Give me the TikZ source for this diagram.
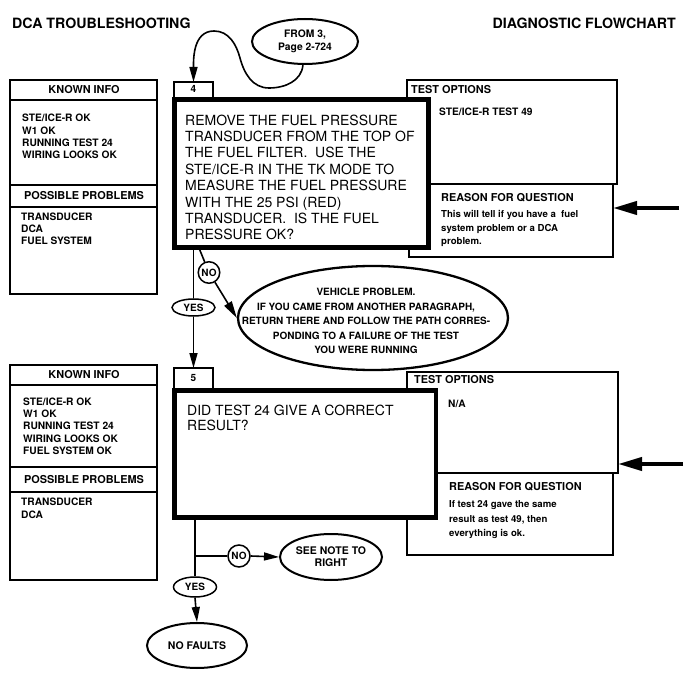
\documentclass[tikz,border=0pt]{standalone}
\usepackage{fontspec}
\setmainfont{TeX Gyre Heros}
\usetikzlibrary{arrows.meta,shapes.geometric}
\begin{document}
\begin{tikzpicture}[x=1pt,y=-1pt,
  thinbox/.style={draw, line width=1.3pt, inner sep=0pt, outer sep=0pt, anchor=north west, fill=white},
  qbox/.style={draw, line width=4.5pt, inner sep=0pt, outer sep=0pt, anchor=north west, fill=white},
  headtxt/.style={inner sep=0pt, font=\fontsize{10.9}{12}\selectfont\bfseries},
  smalltxt/.style={inner sep=0pt, anchor=north west, align=left, font=\fontsize{10.2}{12.3}\selectfont\bfseries},
  qtxt/.style={inner sep=0pt, anchor=north west, align=left, font=\fontsize{14}{16.4}\selectfont},
  titletxt/.style={inner sep=0pt, font=\fontsize{14.2}{16}\selectfont\bfseries},
  oval/.style={draw, ellipse, line width=2pt, inner sep=0pt, align=center, font=\fontsize{9.5}{14.5}\selectfont\bfseries},
  ovaltxt/.style={inner sep=0pt, align=center, font=\fontsize{10}{14.5}\selectfont\bfseries},
  yesno/.style={draw, ellipse, line width=1.5pt, inner sep=0pt, font=\fontsize{10}{12}\selectfont\bfseries},
  conn/.style={line width=1.6pt},
  flowarrow/.style={line width=1.6pt, -{Triangle[length=15pt,width=8pt]}},
  bigarrow/.style={line width=4pt, -{Triangle[length=24pt,width=13pt]}}
]
\useasboundingbox (0,0) rectangle (691,679);

% titles
\node[titletxt, anchor=west] (t1) at (12,23.5) {DCA TROUBLESHOOTING};
\node[titletxt, anchor=east] (t2) at (676,23.5) {DIAGNOSTIC FLOWCHART};

% ---- left boxes, step 4
\node[thinbox, minimum width=147pt, minimum height=20pt] (ki1h) at (10,80) {};
\node[thinbox, minimum width=147pt, minimum height=85pt] (ki1b) at (10,100) {};
\node[thinbox, minimum width=147pt, minimum height=22pt] (pp1h) at (10,185) {};
\node[thinbox, minimum width=147pt, minimum height=87pt] (pp1b) at (10,207) {};
% ---- left boxes, step 5
\node[thinbox, minimum width=147pt, minimum height=20pt] (ki2h) at (10,365) {};
\node[thinbox, minimum width=147pt, minimum height=82pt] (ki2b) at (10,385) {};
\node[thinbox, minimum width=147pt, minimum height=25pt] (pp2h) at (10,467) {};
\node[thinbox, minimum width=147pt, minimum height=88pt] (pp2b) at (10,492) {};

% ---- right boxes
\node[thinbox, minimum width=210pt, minimum height=104pt] (to1) at (407,80) {};
\node[thinbox, minimum width=204pt, minimum height=73pt] (rq1) at (409,184) {};
\node[thinbox, minimum width=211pt, minimum height=101pt] (to2) at (407,372) {};
\node[thinbox, minimum width=206pt, minimum height=82pt] (rq2) at (407,473) {};

% ---- step labels
\node[thinbox, minimum width=39pt, minimum height=18pt] (lab4) at (174,82) {};
\node[thinbox, minimum width=39pt, minimum height=23pt] (lab5) at (174,368) {};

% ---- question boxes
\node[qbox, minimum width=254pt, minimum height=148pt] (q4) at (174.5,99.5) {};
\node[qbox, minimum width=261.5pt, minimum height=127pt] (q5) at (174.5,390.5) {};

% ---- texts
\node[headtxt] (ki1ht) at (84,90) {KNOWN INFO};
\node[smalltxt] (ki1t) at (22,114) {STE/ICE-R OK\\W1 OK\\RUNNING TEST 24\\WIRING LOOKS OK};
\node[headtxt] (pp1ht) at (84,196) {POSSIBLE PROBLEMS};
\node[smalltxt, font=\fontsize{10.2}{11.8}\selectfont\bfseries] (pp1t) at (21,213) {TRANSDUCER\\DCA\\FUEL SYSTEM};

\node[headtxt] (ki2ht) at (84,375) {KNOWN INFO};
\node[smalltxt, font=\fontsize{10.2}{12.1}\selectfont\bfseries] (ki2t) at (23,398) {STE/ICE-R OK\\W1 OK\\RUNNING TEST 24\\WIRING LOOKS OK\\FUEL SYSTEM OK};
\node[headtxt] (pp2ht) at (84,479.5) {POSSIBLE PROBLEMS};
\node[smalltxt] (pp2t) at (21,498) {TRANSDUCER\\DCA};

\node[headtxt, font=\fontsize{10}{12}\selectfont\bfseries] (l4t) at (193.5,88.5) {4};
\node[headtxt, font=\fontsize{10}{12}\selectfont\bfseries] (l5t) at (193.5,378) {5};

\node[qtxt] (q4t) at (185,114.5) {REMOVE THE FUEL PRESSURE\\TRANSDUCER FROM THE TOP OF\\THE FUEL FILTER.\ \ USE THE\\STE/ICE-R IN THE TK MODE TO\\MEASURE THE FUEL PRESSURE\\WITH THE 25 PSI (RED)\\TRANSDUCER.\ \ IS THE FUEL\\PRESSURE OK?};
\node[qtxt, font=\fontsize{14}{15}\selectfont] (q5t) at (187,405) {DID TEST 24 GIVE A CORRECT\\RESULT?};

\node[headtxt, anchor=west] (to1h) at (411,90) {TEST OPTIONS};
\node[smalltxt, anchor=west] (to1t) at (439,112) {STE/ICE-R TEST 49};
\node[headtxt, anchor=west] (rq1h) at (441,197.7) {REASON FOR QUESTION};
\node[smalltxt, font=\fontsize{9.6}{13.5}\selectfont\bfseries] (rq1t) at (441,210.5) {This will tell if you have a\ \ fuel\\system problem or a DCA\\problem.};

\node[headtxt, anchor=west] (to2h) at (414,380) {TEST OPTIONS};
\node[smalltxt, anchor=west] (to2t) at (448,404) {N/A};
\node[headtxt, anchor=west] (rq2h) at (449,486.7) {REASON FOR QUESTION};
\node[smalltxt, font=\fontsize{9.6}{14.5}\selectfont\bfseries] (rq2t) at (449,500.5) {If test 24 gave the same\\result as test 49, then\\everything is ok.};

% ---- ovals
\node[oval, minimum width=106pt, minimum height=45pt, font=\fontsize{10.3}{13.5}\selectfont\bfseries] (from3) at (305,41.5) {FROM 3,\\Page 2-724};
\node[oval, line width=2.3pt, minimum width=270pt, minimum height=104pt] (veh) at (373,318) {};
\node[ovaltxt] (veht) at (366,321) {VEHICLE PROBLEM.\\IF YOU CAME FROM ANOTHER PARAGRAPH,\\RETURN THERE AND FOLLOW THE PATH CORRES-\\PONDING TO A FAILURE OF THE TEST\\YOU WERE RUNNING};
\node[oval, font=\fontsize{10.5}{12}\selectfont\bfseries, minimum width=102pt, minimum height=46pt] (seenote) at (331,557) {SEE NOTE TO\\RIGHT};
\node[oval, font=\fontsize{10.5}{12}\selectfont\bfseries, minimum width=100pt, minimum height=45pt] (nofaults) at (197,645.5) {NO FAULTS};

\node[yesno, minimum width=43pt, minimum height=17pt] (yes1) at (193.5,307.5) {YES};
\node[yesno, circle, minimum size=21.5pt] (no1) at (209,272.5) {NO};
\node[yesno, minimum width=43pt, minimum height=20pt] (yes2) at (195,587) {YES};
\node[yesno, circle, minimum size=22pt] (no2) at (239,556) {NO};

% ---- connectors
\draw[flowarrow] (from3.265) to[out=-95,in=0] (269,88) to[out=180,in=-75] (240,58) to[out=105,in=0] (214,31) to[out=180,in=90] (lab4.north);

\coordinate (q4no) at (199,248);
\draw[conn] (yes1 |- q4.south) -- (yes1.north);
\draw[flowarrow] (yes1.south) -- (lab5.north);
\draw[conn] (q4no) -- (no1);
\draw[flowarrow, -{Triangle[length=17pt,width=8.5pt]}] (no1) -- (veh.west);

\draw[conn] (yes2 |- q5.south) -- (yes2.north);
\draw[flowarrow] (yes2.south) -- (nofaults.north);
\coordinate (br) at (yes2 |- no2);
\draw[conn] (br) -- (no2.west);
\draw[flowarrow] (no2.east) -- (seenote.west);

\coordinate (ra1) at (679,208);
\coordinate (ra2) at (683,464);
\draw[bigarrow] (ra1) -- (rq1.east |- ra1);
\draw[bigarrow] (ra2) -- (to2.east |- ra2);
\end{tikzpicture}
\end{document}
